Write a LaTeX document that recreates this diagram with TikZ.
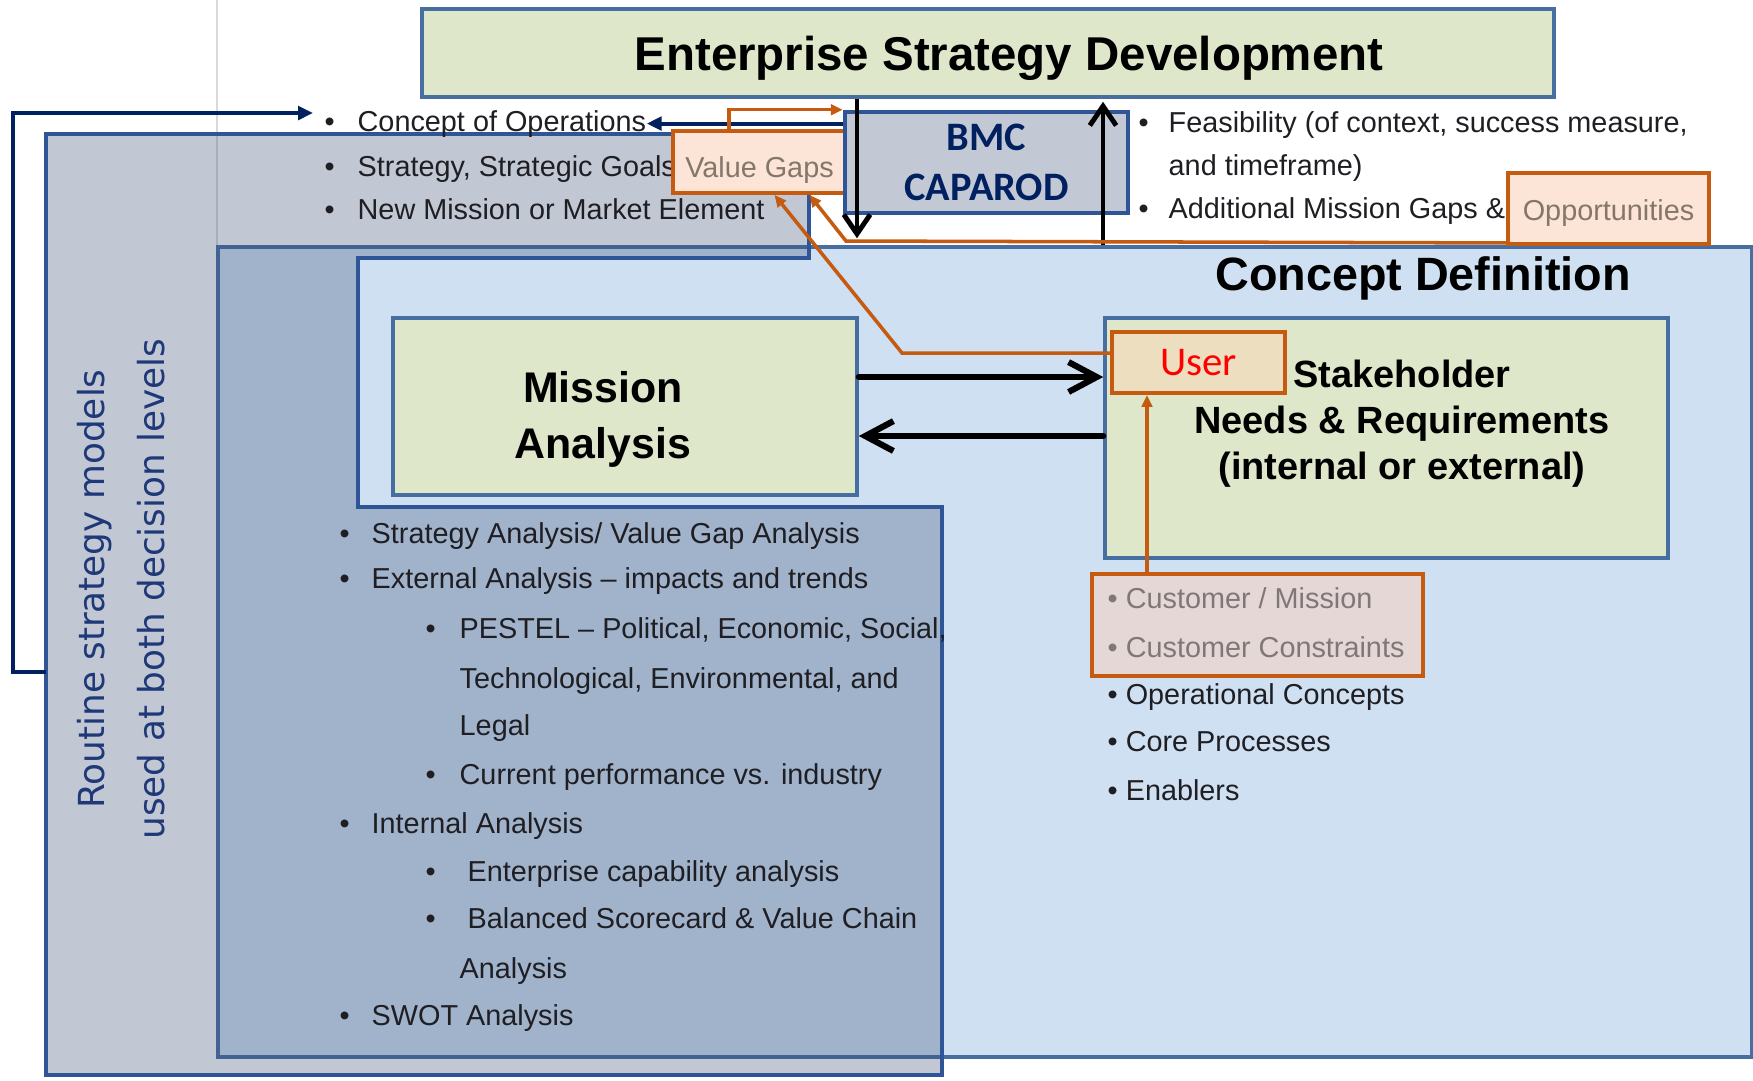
\documentclass[tikz,border=0pt]{standalone}
\usepackage{fontspec}
\setmainfont{Liberation Sans}
\newfontfamily\calfont{Carlito}
\newfontfamily\djfont{DejaVu Sans}
\usetikzlibrary{arrows.meta}

\definecolor{boxblue}{RGB}{70,110,160}
\definecolor{navyline}{RGB}{47,85,151}
\definecolor{navytxt}{RGB}{0,32,96}
\definecolor{palegreen}{RGB}{222,231,201}
\definecolor{cdblue}{RGB}{207,224,242}
\definecolor{shade}{RGB}{55,72,115}
\definecolor{bmcgray}{RGB}{195,200,213}
\definecolor{peach}{RGB}{252,228,214}
\definecolor{usertan}{RGB}{238,222,192}
\definecolor{custpink}{RGB}{229,215,213}
\definecolor{orng}{RGB}{197,90,17}
\definecolor{gaptext}{RGB}{133,118,108}
\definecolor{custtext}{RGB}{128,120,120}
\definecolor{bodytext}{RGB}{30,30,35}
\definecolor{routinetxt}{RGB}{31,56,120}

\newcommand{\lbul}[1]{\makebox[#1][l]{\textbullet}}

\tikzset{
  body/.style={anchor=base west, inner sep=0pt, font=\fontsize{8.2}{9.8}\selectfont, text=bodytext},
  greenbox/.style={draw=boxblue, line width=1pt, fill=palegreen, inner sep=0pt},
  orbox/.style={draw=orng, line width=1.1pt, inner sep=0pt, text depth=0pt},
  bigbold/.style={font=\bfseries\fontsize{12.2}{15.9}\selectfont, align=center},
  midbold/.style={font=\bfseries\fontsize{10.8}{13.1}\selectfont, align=center},
  hblk/.style={line width=1.75pt, line cap=round, -{Straight Barb[length=8pt,width=8.5pt]}},
  vblk/.style={line width=1.4pt, -{Straight Barb[length=5.5pt,width=7.5pt]}},
  navyarr/.style={draw=navytxt, line width=1.1pt, -{Triangle[length=4.2pt,width=3.8pt]}},
  orarr/.style={draw=orng, line width=1pt, -{Triangle[length=3.4pt,width=3pt]}}
}

\begin{document}
\begin{tikzpicture}[x=0.1mm,y=-0.1mm]
\useasboundingbox (0,0) rectangle (1753,1080);
\fill[white] (0,0) rectangle (1753,1080);
\draw[black!15, line width=0.5pt] (217,0) -- (217,247);

% top box
\node[greenbox, minimum width=113.2mm, minimum height=8.8mm, text depth=0pt,
  font=\bfseries\fontsize{13.5}{16}\selectfont] (esd) at (988,53)
  {\hspace*{4.2mm}Enterprise Strategy Development};

% concept definition area
\node[draw=boxblue, line width=1pt, fill=cdblue, minimum width=153.4mm,
  minimum height=81mm, inner sep=0pt] (cdef) at (985,652) {};
\node[anchor=base, font=\bfseries\fontsize{13.3}{16}\selectfont] (cdtitle) at (1423,290) {Concept Definition};

% routine strategy models (shaded frame)
\draw[draw=navyline, line width=1pt, fill=shade, fill opacity=0.3]
  (46,134) -- (809,134) -- (809,258) -- (358,258) -- (358,507)
  -- (942,507) -- (942,1075) -- (46,1075) -- cycle;
\coordinate (rtl) at (46,672);
\node[rotate=90, align=center, font=\djfont\fontsize{10.2}{17}\selectfont, text=routinetxt]
  (routine) at (121,589) {Routine strategy models\\used at both decision levels};

% main boxes
\node[greenbox, minimum width=46.4mm, minimum height=17.7mm,
  label={[bigbold, xshift=-2.2mm, yshift=-1.3mm]center:{Mission\\Analysis}}] (mission) at (625,406.5) {};
\node[greenbox, minimum width=56.3mm, minimum height=24mm,
  label={[midbold, xshift=1.55mm, yshift=1.45mm]center:{Stakeholder\\Needs \& Requirements\\(internal or external)}}] (stake) at (1386.5,438) {};

% top left list
\node[body] (coo) at (324,131) {\lbul{3.3mm}Concept of Operations};
\node[body] (ssg) at (324,176) {\lbul{3.3mm}Strategy, Strategic Goals};
\node[body] (nme) at (324,219) {\lbul{3.3mm}New Mission or Market Element};

% top right list
\node[body] (fea) at (1138,132) {\lbul{3mm}Feasibility (of context, success measure,};
\node[body] (fea2) at (1168,175) {and timeframe)};
\node[body] (amg) at (1138,218) {\lbul{3mm}Additional Mission Gaps \&};

% mission analysis list
\node[body] (sa) at (339,543) {\lbul{3.2mm}Strategy Analysis/ Value Gap Analysis};
\node[body] (ea) at (339,588) {\lbul{3.2mm}External Analysis – impacts and trends};
\node[body] (pe) at (425,638) {\lbul{3.4mm}PESTEL – Political, Economic, Social,};
\node[body] (pe2) at (459,688) {Technological, Environmental, and};
\node[body] (pe3) at (459,735) {Legal};
\node[body] (cp) at (425,784) {\lbul{3.4mm}Current performance vs. industry};
\node[body] (ia) at (339,833) {\lbul{3.2mm}Internal Analysis};
\node[body] (ec) at (425,881) {\lbul{4.2mm}Enterprise capability analysis};
\node[body] (bs) at (425,928) {\lbul{4.2mm}Balanced Scorecard \& Value Chain};
\node[body] (bs2) at (459,978) {Analysis};
\node[body] (sw) at (339,1025) {\lbul{3.2mm}SWOT Analysis};

% stakeholder list
\node[orbox, fill=custpink, minimum width=33.1mm, minimum height=10.2mm] (cust) at (1257.5,625) {};
\node[body, text=custtext] (cm) at (1107,608) {\textbullet\ Customer / Mission};
\node[body, text=custtext] (cc) at (1107,657) {\textbullet\ Customer Constraints};
\node[body] (oc) at (1107,704) {\textbullet\ Operational Concepts};
\node[body] (cpr) at (1107,751) {\textbullet\ Core Processes};
\node[body] (en) at (1107,800) {\textbullet\ Enablers};

% highlighted boxes
\node[orbox, fill=peach, minimum width=17.3mm, minimum height=6.2mm, text height=3mm,
  font=\fontsize{8.2}{9.8}\selectfont, text=gaptext] (vg) at (759.5,162) {Value Gaps};
\node[orbox, fill=peach, minimum width=20.1mm, minimum height=7.1mm, text height=2.4mm,
  font=\fontsize{8.2}{9.8}\selectfont, text=gaptext] (opp) at (1608.5,208.5) {Opportunities};
\node[orbox, fill=usertan, minimum width=17.3mm, minimum height=6.1mm,
  font=\calfont\fontsize{11.6}{14}\selectfont, text=red] (user) at (1198.5,362.5) {User};
\node[draw=navyline, line width=1.3pt, fill=bmcgray, minimum width=28.3mm, minimum height=10.1mm,
  inner sep=0pt, align=center, font=\calfont\bfseries\fontsize{11.5}{14.2}\selectfont,
  text=navytxt] (bmc) at (986.5,162.5) {BMC\\CAPAROD};

% black arrows
\coordinate (dn) at (857,0);
\coordinate (up) at (1103,0);
\draw[vblk, shorten >=0.7mm] (esd.south -| dn) -- (cdef.north -| dn);
\draw[vblk, shorten >=0.3mm] (cdef.north -| up) -- (esd.south -| up);
\coordinate (m1) at ([yshift=2.95mm]mission.east);
\coordinate (m2) at ([yshift=-2.95mm]mission.east);
\draw[hblk] (m1) -- (m1 -| stake.west);
\draw[hblk] (m2 -| stake.west) -- (m2);

% navy arrows
\draw[navyarr] (bmc.west |- coo.east) -- (coo.east);
\coordinate (lcorner) at (13,672);
\coordinate (ctip) at (313,113);
\draw[navyarr] (rtl) -- (lcorner) |- (ctip);

% orange arrows
\coordinate (vgup) at (729,0);
\draw[orarr] (vg.north -| vgup) |- (bmc.north west);
\coordinate (ubend) at (902,353);
\coordinate (uout) at ([yshift=0.95mm]user.west);
\draw[orarr] (uout) -- (ubend) -- ([xshift=1.5mm]vg.south);
\coordinate (obend) at (846,241);
\draw[orarr] ([yshift=0.3mm]opp.south west) -- (obend) -- ([xshift=5mm]vg.south);
\coordinate (cu) at (1147,0);
\draw[orarr] (cust.north -| cu) -- (user.south -| cu);
\end{tikzpicture}
\end{document}
